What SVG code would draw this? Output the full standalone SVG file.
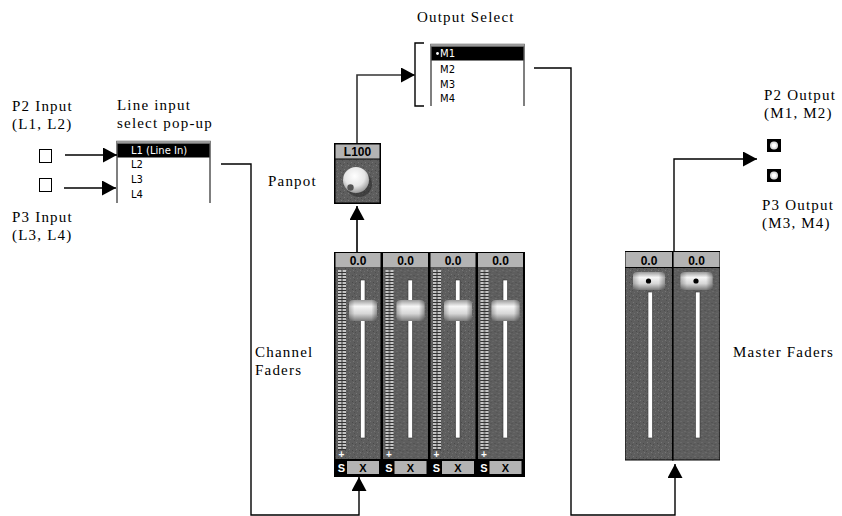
<svg xmlns="http://www.w3.org/2000/svg" width="842" height="516" viewBox="0 0 842 516">
<style>
.lbl{font-family:"Liberation Serif","DejaVu Serif","Times New Roman",serif;font-size:15px;letter-spacing:1.2px;fill:#000}
.ui{font-family:"DejaVu Sans","Liberation Sans",sans-serif;font-size:10px;fill:#000}
.uiw{font-family:"DejaVu Sans","Liberation Sans",sans-serif;font-size:10px;fill:#fff}
.hdr{font-family:"Liberation Sans",Arial,sans-serif;font-size:12px;font-weight:bold;fill:#000;text-anchor:middle}
.sw{font-family:"Liberation Sans",Arial,sans-serif;font-size:11px;font-weight:bold;fill:#fff;text-anchor:middle}
.sx{font-family:"Liberation Sans",Arial,sans-serif;font-size:11px;font-weight:bold;fill:#000;text-anchor:middle}
.conn{fill:none;stroke:#000;stroke-width:1.4}
.pop{fill:none;stroke:#555;stroke-width:1.5}
.gray{fill:#b3b3b3}
.tex{fill:url(#grain)}
</style>
<defs>
<marker id="ah" markerUnits="userSpaceOnUse" markerWidth="15" markerHeight="16" refX="14" refY="7.5" orient="auto">
<path d="M0,0 L14,7.5 L0,15 z" fill="#000"/>
</marker>
<pattern id="grain" patternUnits="userSpaceOnUse" width="7" height="7">
<rect width="7" height="7" fill="#5e5e5e"/>
<rect x="1" y="1" width="1" height="1" fill="#777"/>
<rect x="4" y="2" width="1" height="1" fill="#4a4a4a"/>
<rect x="2" y="5" width="1" height="1" fill="#6e6e6e"/>
<rect x="5" y="4" width="1" height="1" fill="#777"/>
<rect x="6" y="6" width="1" height="1" fill="#505050"/>
<rect x="0" y="3" width="1" height="1" fill="#4e4e4e"/>
</pattern>
<pattern id="ladder" patternUnits="userSpaceOnUse" width="8" height="3" y="270">
<rect width="8" height="3" fill="#333"/>
<rect x="0.5" width="7" height="2" fill="#c4c4c4"/>
</pattern>
<linearGradient id="knob" x1="0" y1="0" x2="0" y2="1">
<stop offset="0" stop-color="#9a9a9a"/>
<stop offset="0.3" stop-color="#f6f6f6"/>
<stop offset="0.65" stop-color="#d6d6d6"/>
<stop offset="1" stop-color="#7a7a7a"/>
</linearGradient>
<linearGradient id="knobh" x1="0" y1="0" x2="1" y2="0">
<stop offset="0" stop-color="#000" stop-opacity="0.25"/>
<stop offset="0.2" stop-color="#000" stop-opacity="0"/>
<stop offset="0.8" stop-color="#000" stop-opacity="0"/>
<stop offset="1" stop-color="#000" stop-opacity="0.35"/>
</linearGradient>
<radialGradient id="ball" cx="0.45" cy="0.35" r="0.65">
<stop offset="0" stop-color="#ffffff"/>
<stop offset="0.6" stop-color="#e6e6e6"/>
<stop offset="1" stop-color="#9a9a9a"/>
</radialGradient>
<g id="chstrip">
<rect x="1.5" y="253" width="45" height="14.5" class="gray"/>
<text x="24" y="265" class="hdr">0.0</text>
<rect x="1.5" y="268" width="45" height="191" class="tex"/>
<rect x="4" y="270" width="8" height="180" fill="url(#ladder)"/>
<text x="7.5" y="458" class="sw" style="font-size:10px">+</text>
<rect x="26.5" y="280" width="4.5" height="158" fill="#fff" stroke="#333" stroke-width="0.6"/>
<rect x="15" y="300" width="28" height="21" rx="4" fill="url(#knob)"/>
<rect x="15" y="300" width="28" height="21" rx="4" fill="url(#knobh)"/>
<text x="7.5" y="472" class="sw">S</text>
<rect x="13" y="461" width="32" height="13" class="gray"/>
<text x="29" y="472" class="sx">X</text>
</g>
<g id="mstrip">
<rect x="0.5" y="252" width="46.5" height="15" class="gray"/>
<text x="24" y="264.5" class="hdr">0.0</text>
<rect x="0.5" y="268" width="46.5" height="191.5" class="tex"/>
<rect x="23" y="292" width="4.5" height="146" fill="#fff" stroke="#333" stroke-width="0.6"/>
<rect x="8" y="272" width="32" height="18" rx="4" fill="url(#knob)"/>
<rect x="8" y="272" width="32" height="18" rx="4" fill="url(#knobh)"/>
<circle cx="23.5" cy="281" r="2.6" fill="#000"/>
</g>
</defs>

<g id="labels">
<text x="417" y="22" class="lbl">Output Select</text>
<text x="117" y="109.5" class="lbl">Line input</text>
<text x="117" y="127.5" class="lbl">select pop-up</text>
<text x="12" y="110.5" class="lbl">P2 Input</text>
<text x="12" y="128.5" class="lbl">(L1, L2)</text>
<text x="12" y="221.5" class="lbl">P3 Input</text>
<text x="12" y="239.5" class="lbl">(L3, L4)</text>
<text x="268" y="186" class="lbl">Panpot</text>
<text x="255" y="357" class="lbl">Channel</text>
<text x="255" y="375" class="lbl">Faders</text>
<text x="733" y="357" class="lbl">Master Faders</text>
<text x="764" y="99.5" class="lbl">P2 Output</text>
<text x="764" y="117.5" class="lbl">(M1, M2)</text>
<text x="762" y="209.5" class="lbl">P3 Output</text>
<text x="762" y="227.5" class="lbl">(M3, M4)</text>
</g>

<g id="p2-input">
<rect x="39.5" y="149.5" width="12" height="13" fill="#fff" stroke="#000" stroke-width="1"/>
</g>
<g id="p3-input">
<rect x="39.5" y="178.5" width="12" height="13" fill="#fff" stroke="#000" stroke-width="1"/>
</g>

<g id="line-input-popup">
<path d="M117,203 V141.5 H210 V203" class="pop"/>
<rect x="117" y="141" width="93" height="2.5" fill="#999"/>
<rect x="117.5" y="143.5" width="92" height="14" fill="#000"/>
<text x="131" y="154" class="uiw">L1 (Line In)</text>
<text x="131" y="168" class="ui">L2</text>
<text x="131" y="183" class="ui">L3</text>
<text x="131" y="197.5" class="ui">L4</text>
</g>

<g id="output-select">
<path d="M424,43 H415 V106 H424" fill="none" stroke="#000" stroke-width="1.4"/>
<path d="M431,106 V44.5 H524 V106" class="pop"/>
<rect x="431" y="44" width="93" height="2.5" fill="#999"/>
<rect x="431.5" y="46.5" width="92" height="14" fill="#000"/>
<circle cx="437.5" cy="53.5" r="1.4" fill="#fff"/>
<text x="440" y="57" class="uiw">M1</text>
<text x="440" y="73" class="ui">M2</text>
<text x="440" y="88" class="ui">M3</text>
<text x="440" y="102" class="ui">M4</text>
</g>

<g id="panpot">
<rect x="334" y="143" width="47" height="61" fill="#000"/>
<rect x="335.5" y="144.5" width="44" height="14" class="gray"/>
<text x="357.5" y="156" class="hdr">L100</text>
<rect x="335.5" y="159.5" width="44" height="43" class="tex"/>
<circle cx="359" cy="184" r="13" fill="#222" opacity="0.5"/>
<circle cx="356" cy="180" r="13" fill="url(#ball)"/>
<circle cx="350.5" cy="187.5" r="3.2" fill="#555"/>
</g>

<g id="channel-faders">
<rect x="334" y="252" width="191" height="225" fill="#000"/>
<use href="#chstrip" x="334"/>
<use href="#chstrip" x="381.5"/>
<use href="#chstrip" x="429"/>
<use href="#chstrip" x="476.5"/>
</g>

<g id="master-faders">
<rect x="625" y="251" width="95" height="209.5" fill="#000"/>
<use href="#mstrip" x="625"/>
<use href="#mstrip" x="672.5"/>
<rect x="672" y="251" width="1.6" height="209.5" fill="#000"/>
</g>

<g id="p2-output">
<rect x="767" y="139" width="14" height="13" fill="#000"/>
<circle cx="774" cy="145.5" r="4" fill="#ddd"/>
<circle cx="774" cy="145.5" r="2.2" fill="#fff"/>
</g>
<g id="p3-output">
<rect x="767" y="169" width="14" height="13" fill="#000"/>
<circle cx="774" cy="175.5" r="4" fill="#ddd"/>
<circle cx="774" cy="175.5" r="2.2" fill="#fff"/>
</g>

<g id="connectors">
<path d="M65,155 H117" class="conn" marker-end="url(#ah)"/>
<path d="M64,188 H116" class="conn" marker-end="url(#ah)"/>
<path d="M221,164 H251 V515 H359 V477" class="conn" marker-end="url(#ah)"/>
<path d="M357,252 V206" fill="none" stroke="#333" stroke-width="2" marker-end="url(#ah)"/>
<path d="M357,143 V75 H415" fill="none" stroke="#333" stroke-width="1.6" marker-end="url(#ah)"/>
<path d="M534,68 H571 V515 H675 V464" class="conn" marker-end="url(#ah)"/>
<path d="M674,251 V159 H757" class="conn" marker-end="url(#ah)"/>
</g>
</svg>
